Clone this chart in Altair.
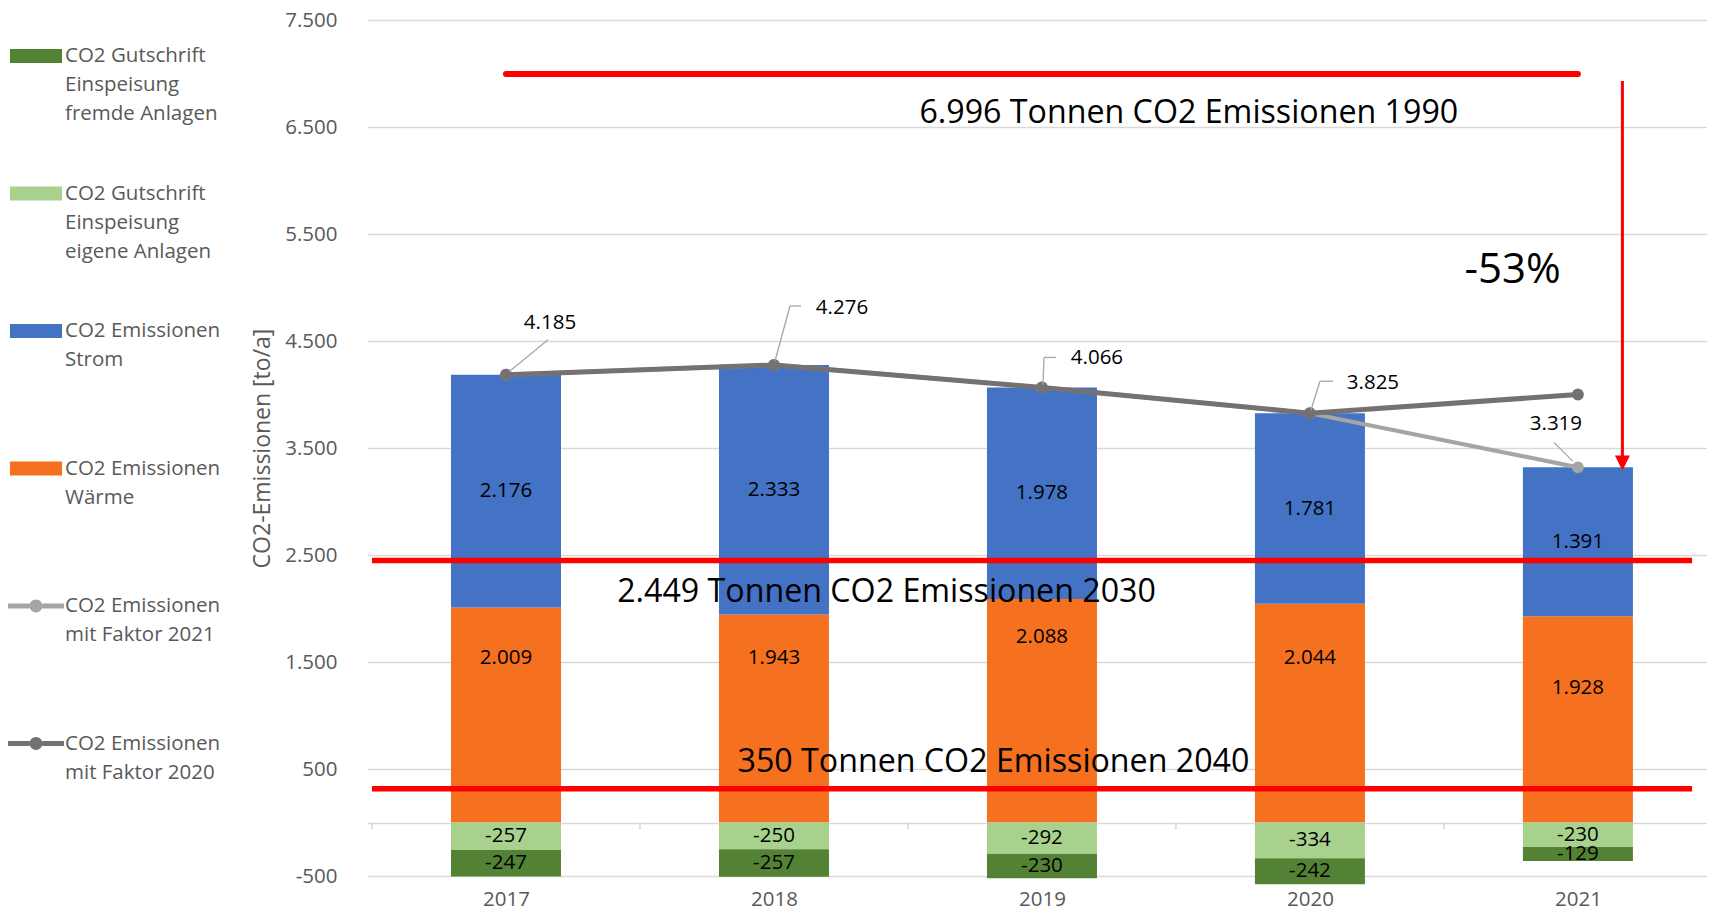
import altair as alt
import pandas as pd

FONT = "Open Sans"
GREY_TXT = "#595959"

# ---------------- data ----------------
years = ["2017", "2018", "2019", "2020", "2021"]
gutschrift_fremde = [-247, -257, -230, -242, -129]
gutschrift_eigene = [-257, -250, -292, -334, -230]
emissionen_strom = [2176, 2333, 1978, 1781, 1391]
emissionen_waerme = [2009, 1943, 2088, 2044, 1928]
faktor_2021 = [4185, 4276, 4066, 3825, 3319]
faktor_2020 = [4185, 4276, 4066, 3825, 4000]
# Wärme labels were moved upward in the original (value units where they sit)
waerme_label_at = [1542, 1533, 1738, 1533, 1253]

# target levels (drawn lines) and texts
level_1990 = 6996
level_2030 = 2449
level_2040_line = 316
text_1990 = "6.996 Tonnen CO2 Emissionen 1990"
text_2030 = "2.449 Tonnen CO2 Emissionen 2030"
text_2040 = "350 Tonnen CO2 Emissionen 2040"
reduction_text = "-53%"

# series names ("|" marks legend line breaks)
S_FREMDE = "CO2 Gutschrift|Einspeisung|fremde Anlagen"
S_EIGENE = "CO2 Gutschrift|Einspeisung|eigene Anlagen"
S_STROM = "CO2 Emissionen|Strom"
S_WAERME = "CO2 Emissionen|Wärme"
S_F21 = "CO2 Emissionen|mit Faktor 2021"
S_F20 = "CO2 Emissionen|mit Faktor 2020"
series_order = [S_FREMDE, S_EIGENE, S_STROM, S_WAERME, S_F21, S_F20]
series_colors = ["#548235", "#A9D18E", "#4472C4", "#F5701F", "#A5A5A5", "#767171"]

BAR_SHAPE = "M-0.93,-0.25H0.93V0.25H-0.93Z"
LINE_SHAPE = ("M-1,-0.085H-0.225V0.085H-1Z M0.225,-0.085H1V0.085H0.225Z "
              "M-0.23,0A0.23,0.23 0 1,0 0.23,0A0.23,0.23 0 1,0 -0.23,0Z")
ARROW_HEAD = "M-0.5,-1L0.5,-1L0,0Z"


def fmt(v):
    s = f"{abs(v):,}".replace(",", ".")
    return ("-" if v < 0 else "") + s


# ---------------- tables ----------------
idx = list(range(len(years)))
bar_rows = []
for i in idx:
    bar_rows += [
        dict(idx=i, series=S_WAERME, val=emissionen_waerme[i], ord=0),
        dict(idx=i, series=S_STROM, val=emissionen_strom[i], ord=1),
        dict(idx=i, series=S_EIGENE, val=gutschrift_eigene[i], ord=2),
        dict(idx=i, series=S_FREMDE, val=gutschrift_fremde[i], ord=3),
    ]
bars_df = pd.DataFrame(bar_rows)

lab_rows = []
for i in idx:
    w, s = emissionen_waerme[i], emissionen_strom[i]
    e, f = gutschrift_eigene[i], gutschrift_fremde[i]
    lab_rows += [
        dict(idx=i, ly=waerme_label_at[i], txt=fmt(w)),
        dict(idx=i, ly=w + s / 2, txt=fmt(s)),
        dict(idx=i, ly=e / 2, txt=fmt(e)),
        dict(idx=i, ly=e + f / 2, txt=fmt(f)),
    ]
labels_df = pd.DataFrame(lab_rows)

f21_df = pd.DataFrame(dict(idx=idx, val=faktor_2021, series=S_F21))
f20_df = pd.DataFrame(dict(idx=idx, val=faktor_2020, series=S_F20))

# ---------------- scales / axes ----------------
XSCALE = alt.Scale(domain=[-0.5, 4.463], nice=False, zero=False)
YSCALE = alt.Scale(domain=[-500, 7500], nice=False, zero=False)
year_arr = "[" + ",".join(f"'{y}'" for y in years) + "]"
XAXIS = alt.Axis(values=idx, labelExpr=f"{year_arr}[datum.value]", grid=False,
                 ticks=False, domain=False, labelPadding=13, title=None,
                 labelFont=FONT, labelFontSize=20.5, labelColor=GREY_TXT,
                 labelFlush=False)
YAXIS = alt.Axis(values=[-500, 0] + list(range(500, 7501, 1000)),
                 labelExpr="datum.value == 0 ? '' : (datum.value < 0 ? '-' : '') + "
                           "replace(format(abs(datum.value), ','), ',', '.')",
                 grid=True, gridColor="#D9D9D9", gridWidth=1.5, ticks=False,
                 domain=False, labelPadding=30, title="CO2-Emissionen [to/a]",
                 titlePadding=10, titleFont=FONT, titleFontSize=23,
                 titleFontWeight="normal", titleColor=GREY_TXT,
                 labelFont=FONT, labelFontSize=20.5, labelColor=GREY_TXT)
COLOR_SCALE = alt.Scale(domain=series_order, range=series_colors)
SHAPE_SCALE = alt.Scale(domain=series_order,
                        range=[BAR_SHAPE] * 4 + [LINE_SHAPE] * 2)


def X(field):
    return alt.X(field, type="quantitative", scale=XSCALE, axis=XAXIS)


def Y(field, **kw):
    return alt.Y(field, type="quantitative", scale=YSCALE, axis=YAXIS, **kw)


def C(legend=None):
    return alt.Color("series:N", scale=COLOR_SCALE, legend=legend)


LEGEND = alt.Legend(title=None, orient="none", legendX=-359, legendY=8,
                    direction="vertical", symbolSize=3136, symbolStrokeWidth=0,
                    symbolOpacity=1, labelFont=FONT, labelFontSize=20.5,
                    labelColor=GREY_TXT, labelOffset=1, labelLimit=400,
                    labelBaseline="middle", rowPadding=40.5, padding=0,
                    labelExpr="slice(split(datum.label + '||', '|'), 0, 3)")

layers = []

# legend carrier first (invisible points; the legend is drawn by Vega-Lite)
leg_df = pd.DataFrame(dict(series=series_order, idx=0, val=0))
layers.append(
    alt.Chart(leg_df).mark_point(filled=True, opacity=0).encode(
        x=X("idx"), y=Y("val"),
        color=alt.Color("series:N", scale=COLOR_SCALE, legend=LEGEND),
        shape=alt.Shape("series:N", scale=SHAPE_SCALE, legend=LEGEND))
)

# stacked bars
layers.append(
    alt.Chart(bars_df).mark_bar(size=110).encode(
        x=X("idx"), y=Y("val", stack="zero"), color=C(),
        order=alt.Order("ord:Q"))
)

# bar value labels
layers.append(
    alt.Chart(labels_df).mark_text(font=FONT, fontSize=20.5, color="#000000",
                                   baseline="middle", align="center").encode(
        x=X("idx"), y=Y("ly"), text="txt:N")
)

# small category ticks below the zero line
ticks_df = pd.DataFrame(dict(bx=[i - 0.5 for i in idx], zero=0))
layers.append(
    alt.Chart(ticks_df).mark_rule(color="#D9D9D9", strokeWidth=1.5, y2Offset=7).encode(
        x=X("bx"), y=Y("zero"), y2=alt.Y2("zero"))
)

# red target lines 2030 / 2040
targets_df = pd.DataFrame(dict(x0=[-0.5, -0.5], x1=[4.426, 4.426],
                               level=[level_2030, level_2040_line]))
layers.append(
    alt.Chart(targets_df).mark_rule(color="#FF0000", strokeWidth=5.5).encode(
        x=X("x0"), x2=alt.X2("x1"), y=Y("level"))
)
# red 1990 line (from first to last year)
l1990_df = pd.DataFrame(dict(x0=[idx[0]], x1=[idx[-1]], level=[level_1990]))
layers.append(
    alt.Chart(l1990_df).mark_rule(color="#FF0000", strokeWidth=6,
                                  strokeCap="round").encode(
        x=X("x0"), x2=alt.X2("x1"), y=Y("level"))
)

# lines with markers: light (2021) below, dark (2020) on top
layers.append(alt.Chart(f21_df).mark_line(strokeWidth=4.2).encode(
    x=X("idx"), y=Y("val"), color=C()))
layers.append(alt.Chart(f21_df).mark_point(filled=True, size=140, opacity=1).encode(
    x=X("idx"), y=Y("val"), color=C()))
layers.append(alt.Chart(f20_df).mark_line(strokeWidth=5).encode(
    x=X("idx"), y=Y("val"), color=C()))
layers.append(alt.Chart(f20_df).mark_point(filled=True, size=140, opacity=1).encode(
    x=X("idx"), y=Y("val"), color=C()))

# data labels of the "Faktor 2021" series with leader lines (pixel layout)
label_layout = [
    dict(label=(44, -52), leader=[(3, -3), (42, -35)]),
    dict(label=(68, -57), leader=[(1, -4), (16, -59), (27, -59)]),
    dict(label=(55, -29), leader=[(1, -3), (2, -30), (14, -30)]),
    dict(label=(63, -30), leader=[(1, -3), (10, -32), (23, -32)]),
    dict(label=(-22, -43), leader=[(-5, -6), (-24, -25)]),
]
for i, lay in enumerate(label_layout):
    pt = pd.DataFrame(dict(idx=[i], val=[faktor_2021[i]], txt=[fmt(faktor_2021[i])]))
    pts = lay["leader"]
    for (ax, ay), (bx, by) in zip(pts[:-1], pts[1:]):
        layers.append(
            alt.Chart(pt).mark_rule(color="#A6A6A6", strokeWidth=1.3,
                                    xOffset=ax, yOffset=ay,
                                    x2Offset=bx, y2Offset=by).encode(
                x=X("idx"), y=Y("val"), x2=alt.X2("idx"), y2=alt.Y2("val"))
        )
    layers.append(
        alt.Chart(pt).mark_text(font=FONT, fontSize=20.5, color="#000000",
                                baseline="middle", align="center",
                                dx=lay["label"][0], dy=lay["label"][1]).encode(
            x=X("idx"), y=Y("val"), text="txt:N")
    )

# red arrow 1990 -> 2021
arrow_df = pd.DataFrame(dict(ax=[4.166], top=[6931], tip=[3290]))
layers.append(
    alt.Chart(arrow_df).mark_rule(color="#FF0000", strokeWidth=3, y2Offset=-12).encode(
        x=X("ax"), y=Y("top"), y2=alt.Y2("tip"))
)
layers.append(
    alt.Chart(arrow_df).mark_point(shape=ARROW_HEAD, size=900, filled=True,
                                   color="#FF0000", opacity=1).encode(
        x=X("ax"), y=Y("tip"))
)

# annotation texts
ann = [
    (text_1990, 2.548, level_1990, 49),
    (text_2030, 1.420, level_2030, 41.5),
    (text_2040, 1.819, level_2040_line, -16.5),
]
for txt, ax, lev, dy in ann:
    d = pd.DataFrame(dict(ax=[ax], lev=[lev], txt=[txt]))
    layers.append(
        alt.Chart(d).mark_text(font=FONT, fontSize=32.2, color="#000000",
                               align="center", baseline="alphabetic", dy=dy).encode(
            x=X("ax"), y=Y("lev"), text="txt:N")
    )
red_df = pd.DataFrame(dict(ax=[3.756], lev=[5160], txt=[reduction_text]))
layers.append(
    alt.Chart(red_df).mark_text(font=FONT, fontSize=42, color="#000000",
                                align="center", baseline="middle").encode(
        x=X("ax"), y=Y("lev"), text="txt:N")
)

chart = alt.layer(*layers).properties(
    width=1340, height=856,
    autosize=alt.AutoSizeParams(type="none"),
    padding={"left": 359, "top": 12, "right": 0, "bottom": 35},
).configure(
    font=FONT,
    style={"guide-label": {"lineHeight": 29}},
).configure_view(stroke=None)

chart.save("out.html", embed_options={"renderer": "svg", "actions": False})
